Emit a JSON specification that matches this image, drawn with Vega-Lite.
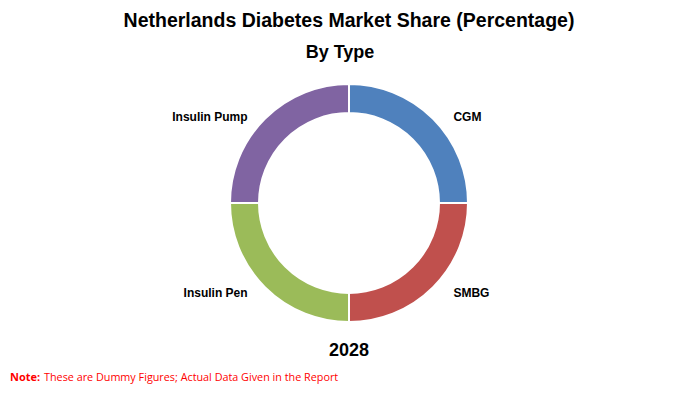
{
  "$schema": "https://vega.github.io/schema/vega-lite/v6.json",
  "background": "#ffffff",
  "padding": {"top": 10, "left": 0, "right": 0, "bottom": 0},
  "config": {"view": {"stroke": null}},
  "title": {
    "text": "Netherlands Diabetes Market Share (Percentage)",
    "font": "Liberation Sans",
    "fontSize": 19.5,
    "fontWeight": "bold",
    "color": "#000000",
    "anchor": "middle",
    "offset": 13
  },
  "datasets": {
    "shares": [
      {"type": "CGM", "share": 25, "order": 1},
      {"type": "SMBG", "share": 25, "order": 2},
      {"type": "Insulin Pen", "share": 25, "order": 3},
      {"type": "Insulin Pump", "share": 25, "order": 4}
    ],
    "empty": []
  },
  "vconcat": [
    {
      "title": {
        "text": "By Type",
        "font": "Liberation Sans",
        "fontSize": 18,
        "fontWeight": "bold",
        "color": "#000000",
        "anchor": "middle",
        "dx": -9,
        "offset": 12
      },
      "vconcat": [
        {
          "width": 698,
          "height": 258,
          "data": {"name": "shares"},
          "title": {
            "text": "2028",
            "orient": "bottom",
            "font": "Liberation Sans",
            "fontSize": 18,
            "fontWeight": "bold",
            "color": "#000000",
            "anchor": "middle",
            "offset": 10
          },
          "encoding": {
            "theta": {"field": "share", "type": "quantitative", "stack": true},
            "order": {"field": "order", "type": "quantitative"}
          },
          "layer": [
            {
              "mark": {"type": "arc", "outerRadius": 119, "innerRadius": 90, "stroke": "#ffffff", "strokeWidth": 2},
              "encoding": {
                "color": {
                  "field": "type",
                  "type": "nominal",
                  "scale": {
                    "domain": ["CGM", "SMBG", "Insulin Pen", "Insulin Pump"],
                    "range": ["#4F81BD", "#C0504D", "#9BBB59", "#8064A2"]
                  },
                  "legend": null
                }
              }
            },
            {
              "mark": {
                "type": "text",
                "radius": 125,
                "font": "Liberation Sans",
                "fontSize": 12,
                "fontWeight": "bold",
                "color": "#000000",
                "baseline": "middle",
                "dy": 2,
                "align": {"expr": "datum.order <= 2 ? 'left' : 'right'"},
                "dx": {"expr": "datum.order <= 2 ? 16 : -13"}
              },
              "encoding": {"text": {"field": "type", "type": "nominal"}}
            }
          ]
        }
      ]
    },
    {
      "spacing": 3,
      "hconcat": [
        {
          "width": 0,
          "height": 0,
          "data": {"name": "empty"},
          "mark": "text",
          "title": {"text": "Note:", "orient": "top", "anchor": "start", "dx": 10, "font": "Open Sans", "fontSize": 11, "fontWeight": "bold", "color": "#ff0000", "offset": 0}
        },
        {
          "width": 0,
          "height": 0,
          "data": {"name": "empty"},
          "mark": "text",
          "title": {"text": "These are Dummy Figures; Actual Data Given in the Report", "orient": "top", "anchor": "start", "font": "Open Sans", "fontSize": 10.8, "fontWeight": "normal", "color": "#ff0000", "offset": 0}
        }
      ]
    }
  ],
  "spacing": 12
}
